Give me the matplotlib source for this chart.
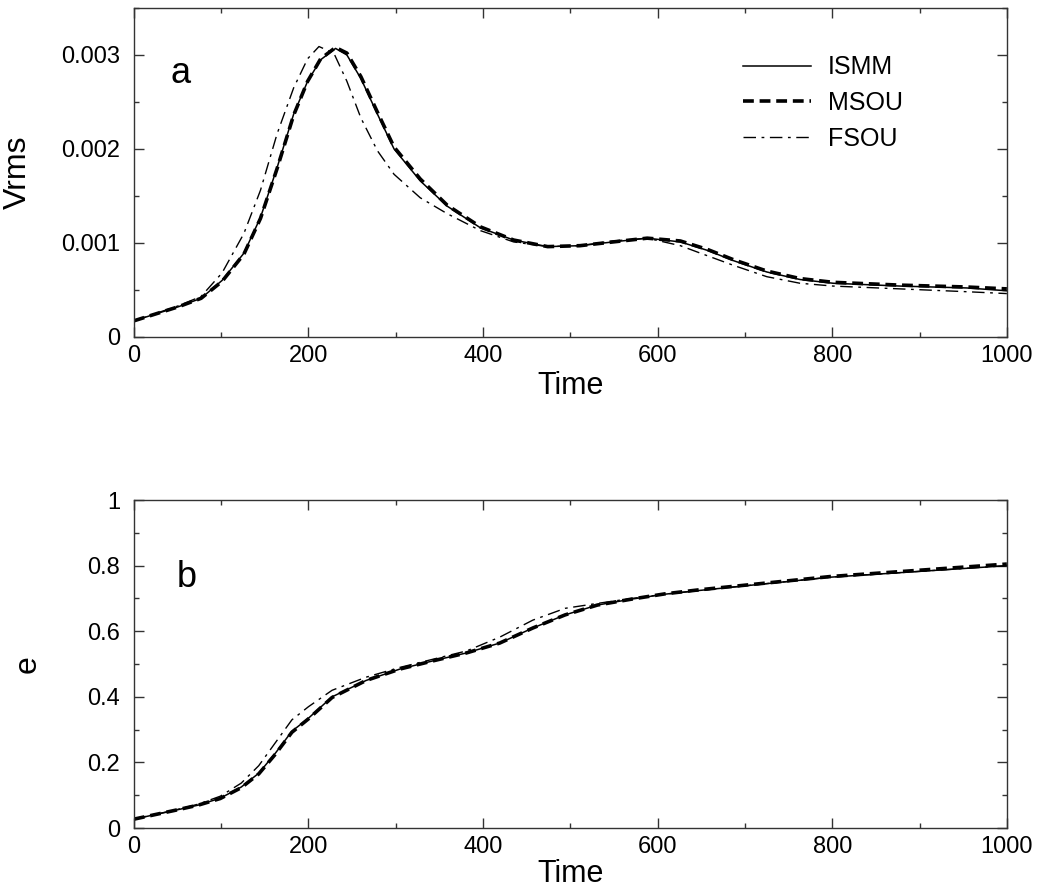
import matplotlib.pyplot as plt
from matplotlib.ticker import MultipleLocator

# --- panel a: Vrms vs time ---
t_a_ismm = [0, 51, 77, 101, 126, 145, 164, 183, 199, 214, 231, 244, 260, 279,
            298, 328, 359, 397, 435, 474, 511, 549, 588, 626, 657, 687, 725,
            763, 801, 878, 954, 1000]
v_ismm = [0.00017, 0.00032, 0.00041, 0.00060, 0.00089, 0.00127, 0.00180,
          0.00237, 0.00272, 0.00295, 0.00307, 0.00300, 0.00275, 0.00237,
          0.00200, 0.00166, 0.00139, 0.00116, 0.00103, 0.00096, 0.00097,
          0.00101, 0.00105, 0.00101, 0.00092, 0.00081, 0.00069, 0.00061,
          0.00057, 0.00054, 0.00052, 0.00049]
v_msou = [0.00017, 0.00032, 0.00041, 0.00059, 0.00088, 0.00126, 0.00179,
          0.00236, 0.00272, 0.00296, 0.00308, 0.00302, 0.00277, 0.00239,
          0.00202, 0.00168, 0.00140, 0.00117, 0.00103, 0.00096, 0.00097,
          0.00101, 0.00105, 0.00102, 0.00093, 0.00082, 0.00070, 0.00062,
          0.00058, 0.00055, 0.00053, 0.00051]
t_a_fsou = [0, 51, 77, 101, 126, 145, 164, 183, 199, 212, 229, 244, 260, 279,
            298, 328, 359, 397, 435, 474, 511, 549, 588, 626, 649, 687, 725,
            763, 801, 878, 954, 1000]
v_fsou = [0.00017, 0.00033, 0.00043, 0.00068, 0.00110, 0.00156, 0.00216,
          0.00265, 0.00296, 0.00309, 0.00302, 0.00272, 0.00233, 0.00198,
          0.00173, 0.00148, 0.00131, 0.00113, 0.00101, 0.00096, 0.00097,
          0.00102, 0.00105, 0.00097, 0.00089, 0.00076, 0.00064, 0.00057,
          0.00054, 0.00051, 0.00048, 0.00046]

# --- panel b: e vs time ---
t_b = [0, 49, 74, 99, 123, 143, 162, 181, 200, 227, 266, 305, 343, 381, 419,
       457, 494, 531, 570, 608, 646, 798, 1000]
e_ismm = [0.027, 0.055, 0.070, 0.091, 0.125, 0.167, 0.228, 0.295, 0.335,
          0.400, 0.450, 0.485, 0.510, 0.534, 0.564, 0.610, 0.650, 0.680,
          0.698, 0.713, 0.724, 0.765, 0.800]
e_msou = [0.027, 0.055, 0.070, 0.090, 0.123, 0.165, 0.225, 0.292, 0.333,
          0.398, 0.450, 0.485, 0.510, 0.534, 0.564, 0.610, 0.650, 0.680,
          0.698, 0.714, 0.726, 0.767, 0.805]
e_fsou = [0.027, 0.056, 0.073, 0.097, 0.137, 0.190, 0.260, 0.330, 0.370,
          0.420, 0.460, 0.490, 0.515, 0.540, 0.582, 0.634, 0.670, 0.685,
          0.700, 0.713, 0.724, 0.765, 0.800]

labels = ["ISMM", "MSOU", "FSOU"]
a_yticks = [0, 0.001, 0.002, 0.003]
a_yticklabels = ["0", "0.001", "0.002", "0.003"]
b_yticks = [0, 0.2, 0.4, 0.6, 0.8, 1.0]
b_yticklabels = ["0", "0.2", "0.4", "0.6", "0.8", "1"]
xticks = [0, 200, 400, 600, 800, 1000]

plt.rcParams["font.family"] = ["Liberation Sans", "DejaVu Sans"]

fig = plt.figure(figsize=(10.38, 8.91), dpi=100)
ax_a = fig.add_axes([0.129, 0.622, 0.841, 0.369])
ax_b = fig.add_axes([0.129, 0.0707, 0.841, 0.368])

solid = dict(color="black", lw=1.1, ls="-")
dashed = dict(color="black", lw=2.6, ls=(0, (3.0, 1.6)))
dashdot = dict(color="black", lw=1.0, ls=(0, (9, 4, 2, 4)))

ax_a.plot(t_a_ismm, v_ismm, label=labels[0], **solid)
ax_a.plot(t_a_ismm, v_msou, label=labels[1], **dashed)
ax_a.plot(t_a_fsou, v_fsou, label=labels[2], **dashdot)

ax_b.plot(t_b, e_ismm, **solid)
ax_b.plot(t_b, e_msou, **dashed)
ax_b.plot(t_b, e_fsou, **dashdot)

for ax in (ax_a, ax_b):
    ax.set_xlim(0, 1000)
    ax.set_xticks(xticks)
    ax.set_xticklabels([str(x) for x in xticks])
    ax.xaxis.set_minor_locator(MultipleLocator(100))
    ax.tick_params(which="both", direction="in", top=True, right=True,
                   width=1.0, color="#333333")
    ax.tick_params(which="major", length=7.5, labelsize=17)
    ax.tick_params(which="minor", length=3.8)
    ax.tick_params(axis="y", pad=10)
    ax.tick_params(axis="x", pad=6)
    for s in ax.spines.values():
        s.set_linewidth(1.0)
        s.set_color("#333333")
    ax.set_xlabel("Time", fontsize=22)

ax_a.set_ylim(0, 0.0035)
ax_a.set_yticks(a_yticks)
ax_a.set_yticklabels(a_yticklabels)
ax_a.yaxis.set_minor_locator(MultipleLocator(0.0005))
ax_a.set_ylabel("Vrms", fontsize=23)
ax_a.yaxis.set_label_coords(-0.116, 0.5)
ax_a.xaxis.set_label_coords(0.5, -0.103)
ax_a.text(0.053, 0.80, "a", transform=ax_a.transAxes, fontsize=26,
          ha="center", va="center")

ax_b.set_ylim(0, 1)
ax_b.set_yticks(b_yticks)
ax_b.set_yticklabels(b_yticklabels)
ax_b.yaxis.set_minor_locator(MultipleLocator(0.1))
ax_b.set_ylabel("e", fontsize=23)
ax_b.yaxis.set_label_coords(-0.105, 0.5)
ax_b.xaxis.set_label_coords(0.5, -0.094)
ax_b.text(0.06, 0.765, "b", transform=ax_b.transAxes, fontsize=26,
          ha="center", va="center")

ax_a.legend(loc="upper left", bbox_to_anchor=(0.698, 0.856), frameon=False,
            fontsize=18, handlelength=2.7, handletextpad=0.7,
            labelspacing=0.47, borderpad=0, borderaxespad=0)

fig.savefig("out.png", dpi=100)
